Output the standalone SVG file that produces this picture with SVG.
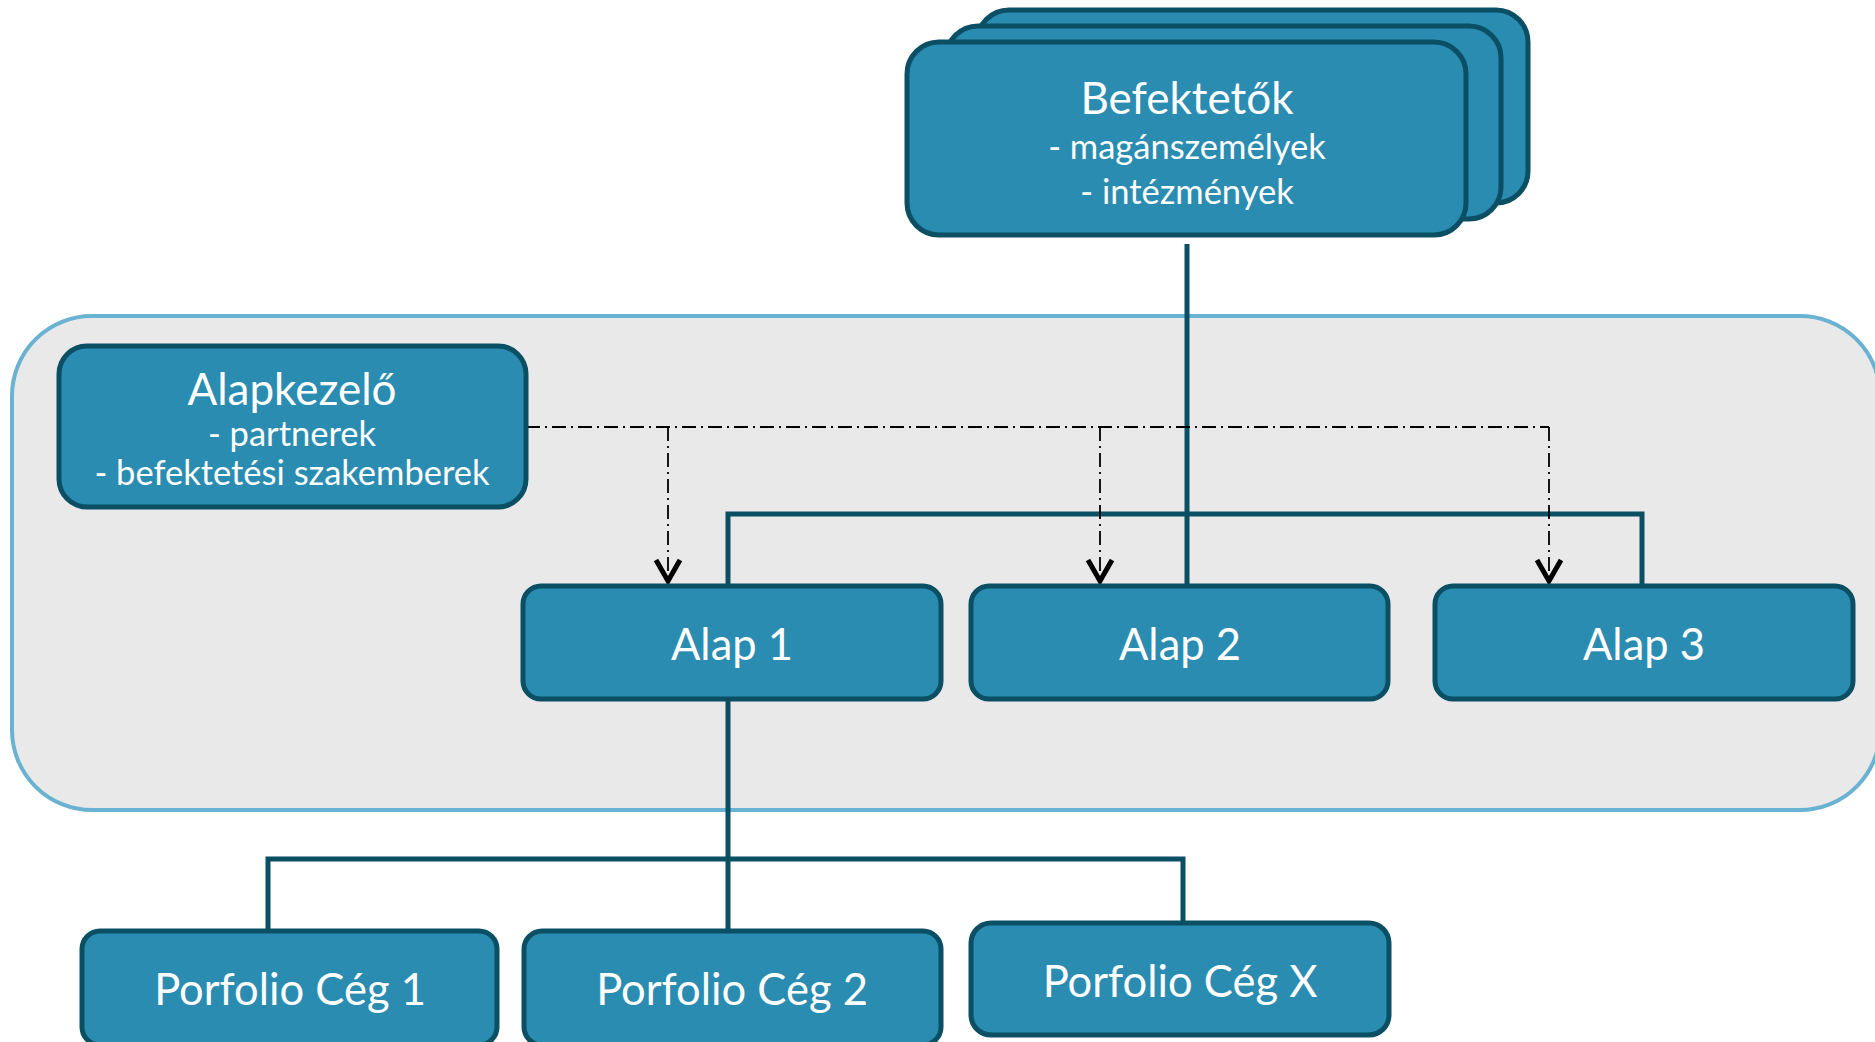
<svg xmlns="http://www.w3.org/2000/svg" width="1875" height="1042" viewBox="0 0 1875 1042">
  <style>
    .node { fill: #2a8cb1; stroke: #0b4f65; stroke-width: 5; }
    .lbl { fill: #ffffff; font-family: "Lato", "Open Sans", sans-serif; text-anchor: middle; }
    .title { font-size: 44px; }
    .sub { font-size: 34.5px; }
    .name { font-size: 43.5px; }
    .link { fill: none; stroke: #0b4f65; stroke-width: 5; }
    .ctrl { fill: none; stroke: #000000; stroke-width: 1.8; stroke-dasharray: 14 5 2 5; }
  </style>
  <defs>
    <!-- open chevron head for the control links -->
    <marker id="vee" viewBox="-26 -16 28 32" refX="0" refY="0" markerWidth="28" markerHeight="32" markerUnits="userSpaceOnUse" orient="auto" overflow="visible">
      <path d="M-21,-12 L0,0 L-21,12" fill="none" stroke="#000000" stroke-width="5" stroke-dasharray="none" stroke-linejoin="miter"/>
    </marker>
  </defs>

  <rect width="1875" height="1042" fill="#ffffff"/>

  <!-- fund boundary -->
  <rect id="fund-area" x="12" y="316" width="1868" height="494" rx="80" ry="80" fill="#e9e9e9" stroke="#6ab2d1" stroke-width="4"/>

  <!-- connectors -->
  <g id="connectors">
    <path class="link" d="M1187,244 V585"/>
    <path class="link" d="M728,585 V514 H1642 V585"/>
    <path class="link" d="M728,700 V931"/>
    <path class="link" d="M268,931 V859 H1183 V923"/>
    <path class="ctrl" d="M526,427 H1549"/>
    <path class="ctrl" d="M668,427 V581" marker-end="url(#vee)"/>
    <path class="ctrl" d="M1100,427 V581" marker-end="url(#vee)"/>
    <path class="ctrl" d="M1549,427 V581" marker-end="url(#vee)"/>
  </g>

  <!-- investors (stacked) -->
  <g id="investors">
    <rect class="node" x="977" y="10" width="551" height="193" rx="32"/>
    <rect class="node" x="946" y="26" width="555" height="193" rx="32"/>
    <rect class="node" x="907" y="42" width="559" height="193" rx="32"/>
    <text class="lbl title" x="1187" y="114">Befektetők</text>
    <text class="lbl sub" x="1187" y="159">- magánszemélyek</text>
    <text class="lbl sub" x="1187" y="204">- intézmények</text>
  </g>

  <!-- fund manager -->
  <g id="fund-manager">
    <rect class="node" x="59" y="346" width="467" height="161" rx="28"/>
    <text class="lbl title" x="292" y="405">Alapkezelő</text>
    <text class="lbl sub" x="292" y="446">- partnerek</text>
    <text class="lbl sub" x="292" y="485">- befektetési szakemberek</text>
  </g>

  <!-- funds -->
  <g id="fund-1">
    <rect class="node" x="523" y="586" width="418" height="113" rx="18"/>
    <text class="lbl name" x="732" y="660">Alap 1</text>
  </g>
  <g id="fund-2">
    <rect class="node" x="971" y="586" width="417" height="113" rx="18"/>
    <text class="lbl name" x="1180" y="660">Alap 2</text>
  </g>
  <g id="fund-3">
    <rect class="node" x="1435" y="586" width="418" height="113" rx="18"/>
    <text class="lbl name" x="1644" y="660">Alap 3</text>
  </g>

  <!-- portfolio companies -->
  <g id="portfolio-1">
    <rect class="node" x="82" y="931" width="415" height="114" rx="18"/>
    <text class="lbl name" x="290" y="1005">Porfolio Cég 1</text>
  </g>
  <g id="portfolio-2">
    <rect class="node" x="524" y="931" width="417" height="114" rx="18"/>
    <text class="lbl name" x="732" y="1005">Porfolio Cég 2</text>
  </g>
  <g id="portfolio-x">
    <rect class="node" x="971" y="923" width="418" height="112" rx="20"/>
    <text class="lbl name" x="1180" y="997">Porfolio Cég X</text>
  </g>
</svg>
